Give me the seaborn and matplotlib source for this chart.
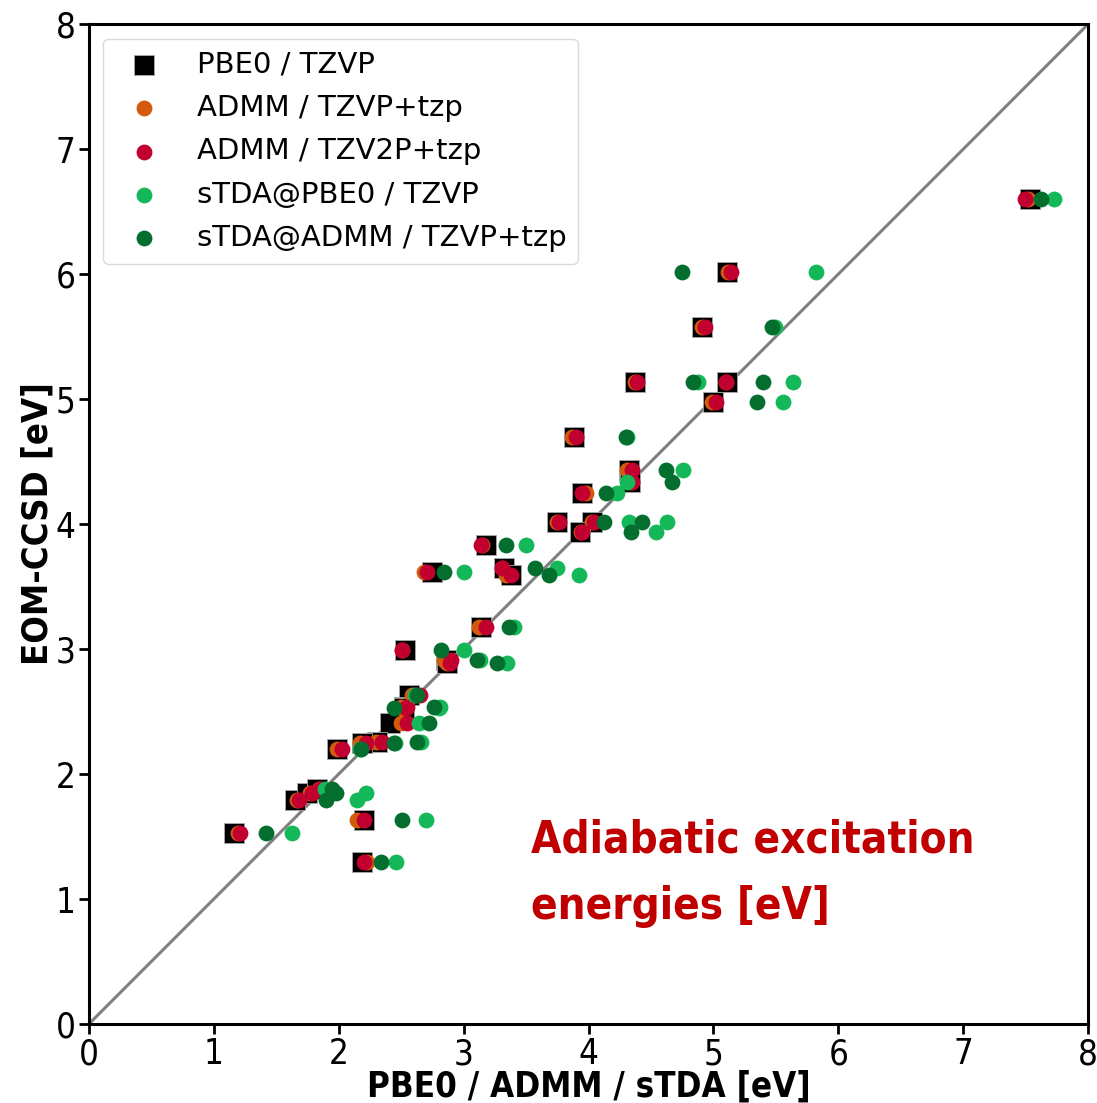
import glob
import numpy as np
import pandas as pd
import matplotlib
matplotlib.use("Agg")
import matplotlib.pyplot as plt
from matplotlib import font_manager as fm
import seaborn as sns

# EOM-CCSD reference values (y)
eom_ccsd = [6.60, 6.02, 5.58, 5.14, 5.14, 4.98, 4.70, 4.43, 4.34, 4.25,
            4.02, 4.02, 3.94, 3.83, 3.62, 3.65, 3.59, 3.18, 2.99, 2.91,
            2.89, 2.63, 2.54, 2.53, 2.41, 2.26, 2.25, 2.20, 1.79, 1.85,
            1.88, 1.63, 1.53, 1.30]

pbe0_tzvp = [7.53, 5.11, 4.91, 4.37, 5.11, 5.00, 3.88, 4.32, 4.33, 3.95,
             3.75, 4.03, 3.93, 3.18, 2.75, 3.32, 3.38, 3.14, 2.53, 2.86,
             2.87, 2.56, 2.52, 2.52, 2.41, 2.31, 2.19, 1.99, 1.65, 1.75,
             1.83, 2.20, 1.16, 2.19]

admm_tzvp = [7.52, 5.12, 4.91, 4.37, 5.10, 4.99, 3.87, 4.31, 4.34, 3.98,
             3.75, 4.03, 3.94, 3.15, 2.68, 3.31, 3.34, 3.12, 2.51, 2.84,
             2.87, 2.59, 2.50, 2.51, 2.50, 2.30, 2.17, 1.99, 1.67, 1.77,
             1.84, 2.15, 1.19, 2.23]

admm_tzv2p = [7.49, 5.14, 4.93, 4.39, 5.10, 5.02, 3.90, 4.35, 4.35, 3.95,
              3.76, 4.04, 3.95, 3.14, 2.71, 3.31, 3.38, 3.18, 2.51, 2.90,
              2.89, 2.65, 2.55, 2.54, 2.55, 2.35, 2.22, 2.03, 1.68, 1.79,
              1.85, 2.20, 1.21, 2.20]

stda_pbe0 = [7.73, 5.82, 5.49, 4.88, 5.64, 5.56, 4.31, 4.76, 4.31, 4.23,
             4.32, 4.63, 4.54, 3.50, 3.00, 3.75, 3.92, 3.40, 3.00, 3.13,
             3.35, 2.61, 2.81, 2.80, 2.64, 2.66, 2.45, 2.17, 2.15, 2.22,
             1.89, 2.70, 1.63, 2.46]

stda_admm = [7.62, 4.75, 5.47, 4.84, 5.40, 5.35, 4.30, 4.62, 4.67, 4.14,
             4.12, 4.43, 4.34, 3.34, 2.84, 3.57, 3.68, 3.36, 2.82, 3.11,
             3.27, 2.63, 2.76, 2.44, 2.72, 2.63, 2.44, 2.18, 1.90, 1.98,
             1.95, 2.51, 1.42, 2.34]

series_labels = ["PBE0 / TZVP", "ADMM / TZVP+tzp", "ADMM / TZV2P+tzp",
                 "sTDA@PBE0 / TZVP", "sTDA@ADMM / TZVP+tzp"]
series_values = [pbe0_tzvp, admm_tzvp, admm_tzv2p, stda_pbe0, stda_admm]
series_colors = ["#000000", "#D35A0C", "#C2002F", "#15B858", "#036E2E"]
series_markers = ["s", "o", "o", "o", "o"]
series_sizes = [200, 130, 130, 130, 130]

ticks = [0, 1, 2, 3, 4, 5, 6, 7, 8]

sns.set_theme(style="white")
plt.rcParams["font.family"] = ["DejaVu Sans"]
plt.rcParams["text.color"] = "black"
plt.rcParams["axes.labelcolor"] = "black"
plt.rcParams["xtick.color"] = "black"
plt.rcParams["ytick.color"] = "black"


def find_font(patterns):
    for p in patterns:
        hits = sorted(glob.glob(p, recursive=True))
        if hits:
            return hits[0]
    return None


cond_reg = find_font(["/usr/share/fonts/**/DejaVuSansCondensed.ttf",
                      "/usr/share/fonts/**/LiberationSansNarrow-Regular.ttf"])
cond_bold = find_font(["/usr/share/fonts/**/DejaVuSansCondensed-Bold.ttf",
                       "/usr/share/fonts/**/LiberationSansNarrow-Bold.ttf"])


def fp(size, bold=False):
    path = cond_bold if bold else cond_reg
    if path:
        return fm.FontProperties(fname=path, size=size)
    return fm.FontProperties(family="DejaVu Sans", size=size,
                             weight="bold" if bold else "normal",
                             stretch="condensed")


fig = plt.figure(figsize=(10.97, 11.03), dpi=100)
ax = fig.add_axes([0.081, 0.0716, 0.911, 0.9066])

ax.plot([0, 8], [0, 8], color="#808080", lw=2.2, zorder=1)

for lab, xs, col, mk, sz in zip(series_labels, series_values, series_colors,
                                series_markers, series_sizes):
    df = pd.DataFrame({"x": xs, "y": eom_ccsd})
    sns.scatterplot(data=df, x="x", y="y", ax=ax, color=col, marker=mk, s=sz,
                    edgecolor="#aaaaaa" if mk == "s" else col,
                    linewidth=0.6 if mk == "s" else 0, label=lab, zorder=3)

ax.set_xlim(0, 8)
ax.set_ylim(0, 8)
ax.set_xticks(ticks)
ax.set_yticks(ticks)
ax.tick_params(axis="both", which="major", direction="out", length=7, width=2,
               color="black", bottom=True, left=True, pad=2.5)
for lbl in ax.get_xticklabels() + ax.get_yticklabels():
    lbl.set_fontproperties(fp(25))
for sp in ax.spines.values():
    sp.set_linewidth(2.2)
    sp.set_color("black")

ax.set_xlabel("PBE0 / ADMM / sTDA [eV]", fontproperties=fp(25, True),
              labelpad=-1)
ax.set_ylabel("EOM-CCSD [eV]", fontproperties=fp(26, True), labelpad=1)

ax.text(3.54, 1.645, "Adiabatic excitation\nenergies [eV]", color="#C00000",
        fontproperties=fp(31.5, True), va="top", ha="left", linespacing=1.68)

leg = ax.legend(loc="upper left", fontsize=21, frameon=True, handletextpad=0.8,
                borderpad=0.4, labelspacing=0.53, markerscale=1.0)
leg.get_frame().set_edgecolor("#d0d0d0")

fig.savefig("out.png", dpi=100)
